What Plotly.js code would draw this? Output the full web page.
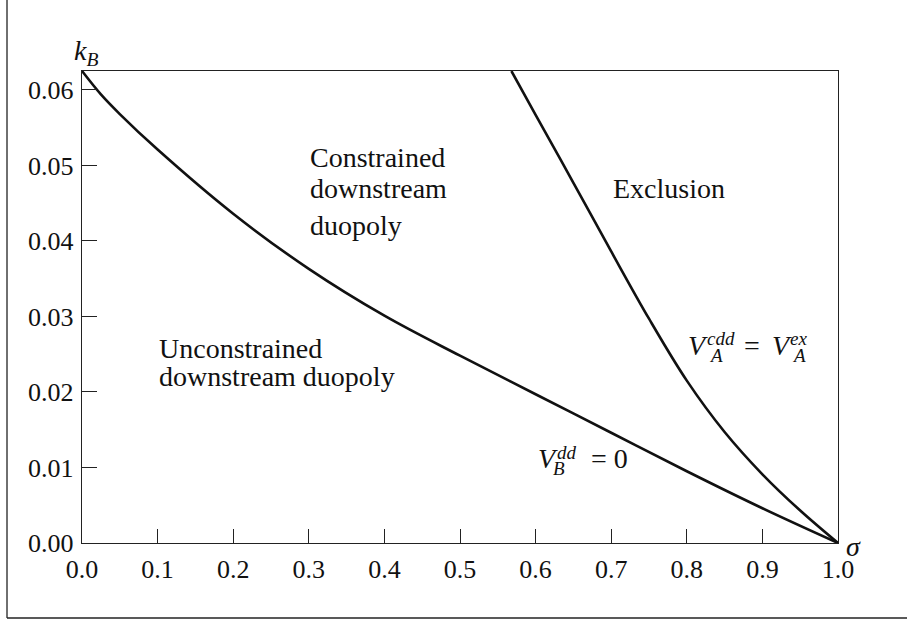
<!DOCTYPE html>
<html><head><meta charset="utf-8">
<script src="https://cdn.plot.ly/plotly-3.0.1.min.js"></script>
<style>html,body{margin:0;padding:0;background:#fff}</style>
</head><body><div id="chart" style="width:907px;height:622px"></div>
<script>
// Boundary V_B^dd = 0
const sigmaB = [0, 0.025, 0.05, 0.1, 0.2, 0.3, 0.4, 0.5, 0.6, 0.7, 0.8, 0.9, 1.0];
const kB     = [0.0625, 0.0594, 0.0568, 0.0521, 0.0436, 0.0363, 0.0301, 0.0248, 0.0197, 0.0146, 0.0095, 0.0046, 0];
// Boundary V_A^cdd = V_A^ex
const sigmaA = [0.568, 0.6, 0.65, 0.7, 0.75, 0.8, 0.85, 0.9, 0.95, 1.0];
const kA     = [0.0625, 0.0567, 0.0477, 0.0386, 0.0297, 0.0215, 0.0147, 0.0091, 0.0043, 0];
// Ticks
const xTicks = [0, 0.1, 0.2, 0.3, 0.4, 0.5, 0.6, 0.7, 0.8, 0.9, 1.0];
const xTickLabels = ['0.0','0.1','0.2','0.3','0.4','0.5','0.6','0.7','0.8','0.9','1.0'];
const yTicks = [0, 0.01, 0.02, 0.03, 0.04, 0.05, 0.06];
const yTickLabels = ['0.00','0.01','0.02','0.03','0.04','0.05','0.06'];

const FONT = "'Liberation Serif', 'Times New Roman', serif";
const INK = '#111';
const AX = '#222';

const traces = [
  {x: sigmaB, y: kB, mode: 'lines', line: {color: INK, width: 2.6, shape: 'spline', smoothing: 1}, hoverinfo: 'skip'},
  {x: sigmaA, y: kA, mode: 'lines', line: {color: INK, width: 2.6, shape: 'spline', smoothing: 1}, hoverinfo: 'skip'}
];

function txt(text, x, y, size, ref) {
  return {text: text, x: x, y: y, xref: ref ? 'paper' : 'x', yref: ref ? 'paper' : 'y', showarrow: false,
          xanchor: 'left', yanchor: 'middle', align: 'left', borderpad: 0,
          font: {family: FONT, size: size || 28, color: INK}};
}

const annotations = [
  txt('Constrained', 0.300, 0.0511),
  txt('downstream', 0.300, 0.0469),
  txt('duopoly', 0.300, 0.0420),
  txt('Unconstrained', 0.1005, 0.0258),
  txt('downstream duopoly', 0.1005, 0.0221),
  txt('Exclusion', 0.701, 0.0470),
  // V_A^cdd = V_A^ex
  txt('<i>V</i>', 0.8003, 0.02616),
  txt('<i>cdd</i>', 0.8254, 0.02702, 19),
  txt('<i>A</i>', 0.8280, 0.02483, 19),
  txt('=', 0.8740, 0.02616),
  txt('<i>V</i>', 0.9110, 0.02616),
  txt('<i>ex</i>', 0.9350, 0.02702, 19),
  txt('<i>A</i>', 0.9375, 0.02483, 19),
  // V_B^dd = 0
  txt('<i>V</i>', 0.6019, 0.01119),
  txt('<i>dd</i>', 0.6270, 0.01199, 19),
  txt('<i>B</i>', 0.6217, 0.00987, 19),
  txt('= 0', 0.6720, 0.01119),
  // axis names (paper coordinates, outside the plot area)
  txt('<i>k</i><sub><i>B</i></sub>', -0.0119, 1.039, 28, true),
  txt('<i>σ</i>', 1.0093, -0.0064, 28, true)
];

const shapes = [
  {type: 'line', xref: 'paper', yref: 'paper', x0: -0.0992, x1: -0.0992, y0: -0.1589, y1: 1.2, line: {color: AX, width: 1.3}},
  {type: 'line', xref: 'paper', yref: 'paper', x0: -0.0992, x1: 1.2, y0: -0.1589, y1: -0.1589, line: {color: AX, width: 1.3}}
];

const layout = {
  width: 907, height: 622,
  margin: {l: 82, r: 69, t: 71, b: 79},
  paper_bgcolor: '#fff', plot_bgcolor: '#fff',
  showlegend: false,
  xaxis: {range: [0, 1], tickvals: xTicks, ticktext: xTickLabels, ticks: 'inside', ticklen: 14,
          tickwidth: 1, tickcolor: AX, showline: true, mirror: true, linecolor: AX, linewidth: 1.2,
          showgrid: false, zeroline: false, fixedrange: true, ticklabelstandoff: 3,
          tickfont: {family: FONT, size: 26, color: INK}},
  yaxis: {range: [0, 0.0625], tickvals: yTicks, ticktext: yTickLabels, ticks: 'inside', ticklen: 15,
          tickwidth: 1, tickcolor: AX, showline: true, mirror: true, linecolor: AX, linewidth: 1.2,
          showgrid: false, zeroline: false, fixedrange: true, ticklabelstandoff: 2,
          tickfont: {family: FONT, size: 26, color: INK}},
  annotations: annotations,
  shapes: shapes
};

Plotly.newPlot('chart', traces, layout, {displayModeBar: false, staticPlot: true});
</script></body></html>
